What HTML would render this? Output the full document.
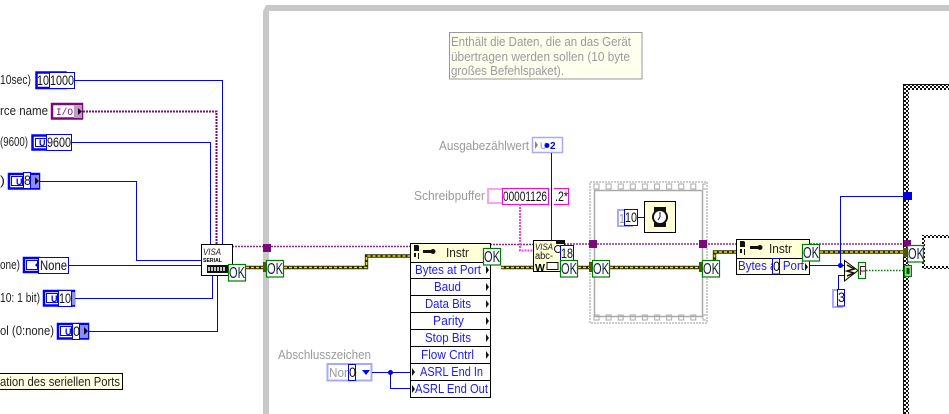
<!DOCTYPE html>
<html><head><meta charset="utf-8"><style>
html,body{margin:0;padding:0;background:#fff;width:949px;height:414px;overflow:hidden}
svg{display:block}
text{font-family:"Liberation Sans",sans-serif;font-size:13px;fill:#222}
.g{fill:#9a9a9a}
.b{fill:#1a1aff}
.ok{font-size:16px;fill:#14233c}
.n{font-size:14px;fill:#111}
.w{fill:none;stroke:#0000ff;stroke-width:1}
.nb{fill:#fff;stroke:#0000ff;stroke-width:1}
.t{fill:#fff;stroke:#0000ff;stroke-width:2.5}
.ti{fill:none;stroke:#0000ff;stroke-width:1}
.okb{fill:#fff;stroke:#007a00;stroke-width:1.2}
.p{fill:none;stroke:#8a2a8a;stroke-width:1.5;stroke-dasharray:2 1}
.py{fill:none;stroke:#2a2a00;stroke-width:3.4}
.py2{fill:none;stroke:#e8e000;stroke-width:1.6;stroke-dasharray:3 2}
.row{fill:#fff;stroke:#000;stroke-width:1}
.tri{fill:#111}
</style></head><body>
<svg width="949" height="414" viewBox="0 0 949 414" xmlns="http://www.w3.org/2000/svg">
<defs>
<pattern id="ch" width="4" height="4" patternUnits="userSpaceOnUse"><rect width="4" height="4" fill="#fff"/><rect width="2" height="2" fill="#111"/><rect x="2" y="2" width="2" height="2" fill="#111"/></pattern>
<pattern id="sp" x="591" y="181" width="12.1" height="142" patternUnits="userSpaceOnUse"><rect x="3" y="3" width="5" height="5" fill="#fff" stroke="#aaa"/><rect x="3" y="134" width="5" height="5" fill="#fff" stroke="#aaa"/></pattern>
</defs>

<!-- main grey frame -->
<path d="M263 414V11l3-6H949V11H269V414Z" fill="#c8c8c8"/>

<!-- checker frame -->
<rect x="903" y="84" width="46" height="6" fill="url(#ch)"/>
<rect x="903" y="84" width="6" height="330" fill="url(#ch)"/>
<path d="M903.5 414V84.5H949" fill="none" stroke="#111"/>
<path d="M949 236.5H923.5V267.5H949" fill="none" stroke="url(#ch)" stroke-width="3"/>

<!-- left wires -->
<path class="w" d="M75 80.5H222.5V244M72 142.5H210.5V244M40 181.5H136.5V260.5H201M68 265.5H201M75 298.5H212.5V275M89 331.5H217.5V275"/>
<path d="M83 111.5H216.5V244" fill="none" stroke="#7a0a7a" stroke-width="2" stroke-dasharray="2 1"/>

<!-- left labels -->
<text x="0" y="84" textLength="31" lengthAdjust="spacingAndGlyphs">10sec)</text>
<text x="0" y="115" textLength="48" lengthAdjust="spacingAndGlyphs">rce name</text>
<text x="0" y="146" textLength="28" lengthAdjust="spacingAndGlyphs">(9600)</text>
<text x="0" y="185" textLength="5" lengthAdjust="spacingAndGlyphs">)</text>
<text x="0" y="269" textLength="20" lengthAdjust="spacingAndGlyphs">one)</text>
<text x="0" y="302" textLength="40" lengthAdjust="spacingAndGlyphs">10: 1 bit)</text>
<text x="0" y="335" textLength="54" lengthAdjust="spacingAndGlyphs">ol (0:none)</text>

<!-- left controls -->
<rect class="t" x="36.5" y="72.5" width="29" height="15.5"/><text class="n" x="37" y="85" textLength="12" lengthAdjust="spacingAndGlyphs">10</text>
<rect class="nb" x="49.5" y="72.5" width="25" height="16"/><text class="n" x="50" y="85" textLength="24" lengthAdjust="spacingAndGlyphs">1000</text>

<rect x="52" y="104" width="30" height="14.5" fill="#fff" stroke="#7a0a7a" stroke-width="2.5"/>
<rect x="74" y="105" width="8" height="13" fill="#c29ac8"/>
<text x="56" y="115" style="font-family:'Liberation Mono',monospace;font-size:10px;fill:#7a0a7a" textLength="17" lengthAdjust="spacingAndGlyphs">I/O</text>
<path class="tri" d="M78 108l4 3.5-4 3.5z"/>

<rect class="t" x="32.5" y="135.5" width="16" height="14"/><rect class="ti" x="35.5" y="138.5" width="11" height="8"/><text x="39" y="146" style="font-size:9px;font-weight:bold;fill:#00f">U</text>
<rect class="nb" x="46.5" y="134.5" width="25" height="16"/><text class="n" x="47" y="147" textLength="24" lengthAdjust="spacingAndGlyphs">9600</text>

<rect class="t" x="9" y="174" width="30" height="14.5"/><rect x="30" y="175" width="9" height="13" fill="#8c8cff"/><rect class="ti" x="11.5" y="176.5" width="11" height="9"/><text x="16" y="185" style="font-size:9px;font-weight:bold;fill:#00f">U</text>
<rect class="nb" x="23.5" y="172.5" width="7" height="16"/><text class="n" x="24" y="185" textLength="7" lengthAdjust="spacingAndGlyphs">8</text>
<path class="tri" d="M35 177l4 4-4 4z"/>

<rect class="t" x="24" y="258" width="15" height="14"/><rect class="ti" x="26.5" y="260.5" width="11" height="9"/><path d="M39 261l-4 4 4 4z" fill="#00f"/>
<rect class="nb" x="38.5" y="257.5" width="30" height="16"/><text class="n" x="40" y="270" textLength="27" lengthAdjust="spacingAndGlyphs">None</text>

<rect class="t" x="44" y="291" width="30" height="14.5"/><rect x="71" y="292" width="4" height="13" fill="#8c8cff"/><rect class="ti" x="46.5" y="293.5" width="11" height="9"/><text x="51" y="302" style="font-size:9px;font-weight:bold;fill:#00f">U</text>
<rect class="nb" x="58.5" y="290.5" width="13" height="16"/><text class="n" x="59" y="303" textLength="12" lengthAdjust="spacingAndGlyphs">10</text>

<rect class="t" x="58" y="324" width="30" height="14.5"/><rect x="80" y="325" width="8" height="13" fill="#8c8cff"/><rect class="ti" x="60.5" y="326.5" width="11" height="9"/><text x="65" y="335" style="font-size:9px;font-weight:bold;fill:#00f">U</text>
<rect class="nb" x="72.5" y="323.5" width="7" height="16"/><text class="n" x="73" y="336" textLength="7" lengthAdjust="spacingAndGlyphs">0</text>
<path class="tri" d="M84 327l4 4-4 4z"/>

<!-- tooltip -->
<rect x="-3" y="373.5" width="125.5" height="16" fill="#ffffe1" stroke="#000"/>
<text x="0" y="386" textLength="120" lengthAdjust="spacingAndGlyphs">ation des seriellen Ports</text>

<!-- main purple + error wires -->
<path class="p" d="M232 246.5H410M490 244.5H533M564 244H903"/>
<path class="py" d="M246 267.5H266M284 267.5H366.5V256H410M501 267.5H533M578 267.5H592M610 267.5H702M720 262H714.5V252H736M820 252H903"/>
<path class="py2" d="M246 267.5H266M284 267.5H366.5V256H410M501 267.5H533M578 267.5H592M610 267.5H702M720 262H714.5V252H736M820 252H903"/>

<!-- VISA serial -->
<rect x="201.5" y="244.5" width="31" height="31" fill="#fff" stroke="#000"/>
<text x="203" y="255" style="font-size:9.5px;font-style:italic;fill:#222" textLength="18" lengthAdjust="spacingAndGlyphs">VISA</text>
<text x="203" y="259" dy="3" style="font-size:5.5px;font-weight:bold;fill:#000" textLength="19" lengthAdjust="spacingAndGlyphs">SERIAL</text>
<rect x="207" y="265" width="21" height="8" fill="#111"/>
<path d="M209 267v4M212 267v4M215 267v4M218 267v4M221 267v4M224 267v4" stroke="#fff" stroke-width="1.5"/>
<rect class="okb" x="228.5" y="264.5" width="17" height="16.5"/><text class="ok" x="229" y="278" textLength="16" lengthAdjust="spacingAndGlyphs">OK</text>

<!-- tunnel in -->
<rect x="263" y="244" width="8" height="8" fill="#7a0a7a"/>
<rect x="263" y="262" width="3" height="10" fill="#55550a"/>
<rect class="okb" x="266.5" y="260.5" width="17" height="16.5"/><text class="ok" x="267" y="274" textLength="16" lengthAdjust="spacingAndGlyphs">OK</text>

<!-- comment -->
<rect x="449.5" y="32.5" width="192.5" height="46.5" fill="#fffff0" stroke="#999"/>
<text class="g" x="451" y="46" textLength="180" lengthAdjust="spacingAndGlyphs">Enthält die Daten, die an das Gerät</text>
<text class="g" x="451" y="61" textLength="179" lengthAdjust="spacingAndGlyphs">übertragen werden sollen (10 byte</text>
<text class="g" x="451" y="75" textLength="113" lengthAdjust="spacingAndGlyphs">großes Befehlspaket).</text>

<!-- property node 1 -->
<rect x="410.5" y="243.5" width="80" height="19" fill="#ffffd8" stroke="#000"/>
<rect class="row" x="410.5" y="262.5" width="80" height="16"/>
<rect class="row" x="410.5" y="278.5" width="80" height="17"/>
<rect class="row" x="410.5" y="295.5" width="80" height="17"/>
<rect class="row" x="410.5" y="312.5" width="80" height="17"/>
<rect class="row" x="410.5" y="329.5" width="80" height="17"/>
<rect class="row" x="410.5" y="346.5" width="80" height="17"/>
<rect class="row" x="410.5" y="363.5" width="80" height="17"/>
<rect class="row" x="410.5" y="380.5" width="80" height="17"/>
<path d="M414 245h4l1 1v5h-5zM414 253h2v4h-2zM418 253h1v6h-1z" fill="#111"/>
<rect x="423" y="250" width="8" height="3" fill="#111"/><circle cx="433" cy="251.5" r="2.5" fill="#111"/>
<text x="446" y="257" textLength="23" lengthAdjust="spacingAndGlyphs">Instr</text>
<text class="b" x="415" y="274" textLength="66" lengthAdjust="spacingAndGlyphs">Bytes at Port</text>
<text class="b" x="434" y="291" textLength="27" lengthAdjust="spacingAndGlyphs">Baud</text>
<text class="b" x="425" y="308" textLength="46" lengthAdjust="spacingAndGlyphs">Data Bits</text>
<text class="b" x="433" y="325" textLength="31" lengthAdjust="spacingAndGlyphs">Parity</text>
<text class="b" x="425" y="342" textLength="46" lengthAdjust="spacingAndGlyphs">Stop Bits</text>
<text class="b" x="421" y="359" textLength="53" lengthAdjust="spacingAndGlyphs">Flow Cntrl</text>
<text class="b" x="420" y="376" textLength="63" lengthAdjust="spacingAndGlyphs">ASRL End In</text>
<text class="b" x="415" y="393" textLength="73" lengthAdjust="spacingAndGlyphs">ASRL End Out</text>
<path class="tri" d="M486 266l3 4-3 4zM486 283l3 4-3 4zM486 300l3 4-3 4zM486 317l3 4-3 4zM486 334l3 4-3 4zM486 351l3 4-3 4zM412 368l3 4-3 4zM412 385l3 4-3 4z"/>
<rect class="okb" x="483.5" y="248.5" width="17" height="16.5"/><text class="ok" x="484" y="262" textLength="16" lengthAdjust="spacingAndGlyphs">OK</text>

<!-- Abschlusszeichen -->
<text class="g" x="278" y="359" textLength="93" lengthAdjust="spacingAndGlyphs">Abschlusszeichen</text>
<rect x="327.5" y="364" width="44" height="16.5" fill="#fff" stroke="#a8a8ff" stroke-width="2"/>
<text class="g" x="329" y="377" textLength="28" lengthAdjust="spacingAndGlyphs">None</text>
<rect class="nb" x="348.5" y="364.5" width="7" height="16"/><text class="n" x="349" y="377" textLength="7" lengthAdjust="spacingAndGlyphs">0</text>
<path d="M362 370h8l-4 5z" fill="#00f"/>
<path class="w" d="M372 372.5H410M390.5 372.5V388.5H410"/>
<circle cx="390.5" cy="372.5" r="2.5" fill="#00f"/>

<!-- Ausgabe + Schreibpuffer -->
<text class="g" x="439" y="150" textLength="90" lengthAdjust="spacingAndGlyphs">Ausgabezählwert</text>
<rect x="532.5" y="137.5" width="30" height="15" fill="#fff" stroke="#a8a8ff" stroke-width="1.5"/>
<path d="M535 141l3 4-3 4z" fill="#888"/><text x="540" y="149" style="font-size:9px;font-weight:bold;fill:#a8a8ff">U</text>
<circle cx="547" cy="145.5" r="2.5" fill="#00f"/><text x="550" y="149" style="font-size:10px;font-weight:bold;fill:#00f">2</text>
<path class="w" d="M551.5 153V240"/>
<text class="g" x="414" y="200" textLength="71" lengthAdjust="spacingAndGlyphs">Schreibpuffer</text>
<rect x="488" y="189" width="17" height="14" fill="#fff" stroke="#ffa0f0" stroke-width="2"/>
<rect x="502.5" y="188.5" width="46" height="16" fill="#fff" stroke="#ff00e0"/>
<text class="n" x="503" y="201" textLength="44" lengthAdjust="spacingAndGlyphs">00001126</text>
<path d="M554 188.5H568.5V204.5H554" fill="#fff" stroke="#ff00e0"/>
<text class="n" x="555" y="201" textLength="13" lengthAdjust="spacingAndGlyphs">.2*</text>
<path d="M520 204V250.5H533" fill="none" stroke="#ff40e8" stroke-width="2" stroke-dasharray="2 1"/>

<!-- VISA write -->
<rect x="533.5" y="240.5" width="31" height="31" fill="#ffffd8" stroke="#000"/>
<text x="535" y="250" style="font-size:9.5px;font-style:italic;fill:#222" textLength="18" lengthAdjust="spacingAndGlyphs">VISA</text>
<text x="535" y="259" style="font-size:10px;fill:#111" textLength="18" lengthAdjust="spacingAndGlyphs">abc-</text>
<text x="535" y="271" style="font-size:10px;font-weight:bold;fill:#000" textLength="10" lengthAdjust="spacingAndGlyphs">W</text>
<rect x="547" y="262.5" width="11" height="7" fill="#fff" stroke="#111"/>
<circle cx="558" cy="249" r="3.5" fill="#fff" stroke="#111"/>
<rect x="556" y="240" width="8" height="4" fill="#111"/>
<rect class="nb" x="560.5" y="245.5" width="13" height="16"/><text class="n" x="561" y="258" textLength="12" lengthAdjust="spacingAndGlyphs">18</text>
<rect class="okb" x="560.5" y="260.5" width="17" height="16.5"/><text class="ok" x="561" y="274" textLength="16" lengthAdjust="spacingAndGlyphs">OK</text>

<!-- Flat sequence -->
<rect x="590" y="182" width="117" height="141" fill="none" stroke="#bbb" stroke-dasharray="2 1" stroke-width="1.5"/>
<rect x="591" y="181" width="115" height="142" fill="url(#sp)"/>
<rect x="594.5" y="190.5" width="108" height="126" fill="none" stroke="#aaa" stroke-width="1.5"/>
<rect x="618" y="210" width="14" height="16" fill="#fff" stroke="#a8a8ff" stroke-width="2"/>
<text class="g" x="619" y="223" textLength="6" lengthAdjust="spacingAndGlyphs">1</text>
<rect class="nb" x="624.5" y="209.5" width="13" height="16"/><text class="n" x="625" y="222" textLength="12" lengthAdjust="spacingAndGlyphs">10</text>
<path class="w" d="M637 217.5H644"/>
<rect x="644.5" y="201.5" width="31" height="31" fill="#ffffd8" stroke="#000"/>
<rect x="654" y="207" width="12" height="20" fill="#111"/>
<circle cx="660" cy="217" r="8" fill="#111"/><circle cx="660" cy="217" r="6" fill="#fff"/>
<path d="M660 212v5l-2 3" fill="none" stroke="#111"/>
<rect x="589" y="240" width="8" height="8" fill="#7a0a7a"/>
<rect x="699" y="240" width="8" height="8" fill="#7a0a7a"/>
<rect x="589" y="262" width="3" height="10" fill="#55550a"/>
<rect x="699" y="262" width="3" height="10" fill="#55550a"/>
<rect class="okb" x="592.5" y="260.5" width="17" height="16.5"/><text class="ok" x="593" y="274" textLength="16" lengthAdjust="spacingAndGlyphs">OK</text>
<rect class="okb" x="702.5" y="260.5" width="17" height="16.5"/><text class="ok" x="703" y="274" textLength="16" lengthAdjust="spacingAndGlyphs">OK</text>

<!-- property node 2 -->
<rect x="736.5" y="239.5" width="73" height="19" fill="#ffffd8" stroke="#000"/>
<rect x="736.5" y="258.5" width="73" height="16" fill="#ffffe8" stroke="#000"/>
<path d="M740 241h4l1 1v5h-5zM740 249h2v4h-2zM744 249h1v6h-1z" fill="#111"/>
<rect x="750" y="246" width="8" height="3" fill="#111"/><circle cx="760" cy="247.5" r="2.5" fill="#111"/>
<text x="769" y="253" textLength="23" lengthAdjust="spacingAndGlyphs">Instr</text>
<text class="b" x="738" y="270" textLength="66" lengthAdjust="spacingAndGlyphs">Bytes at Port</text>
<path class="tri" d="M805 263l3 4-3 4z"/>
<rect class="nb" x="772.5" y="258.5" width="7" height="15.5"/><text class="n" x="773" y="271" textLength="7" lengthAdjust="spacingAndGlyphs">0</text>
<rect class="okb" x="802.5" y="244.5" width="17" height="16.5"/><text class="ok" x="803" y="258" textLength="16" lengthAdjust="spacingAndGlyphs">OK</text>

<!-- compare / right -->
<path class="w" d="M810 265.5H844M840.5 265.5V196.5H904M846 275.5H838.5V289"/>
<circle cx="840.5" cy="265.5" r="2.5" fill="#00f"/>
<rect x="904" y="192" width="8" height="8" fill="#0000e0"/>
<path d="M844.5 260.5L858 270.5 844.5 281Z" fill="#ffffd8" stroke="#000"/>
<path d="M847 265l7 4-7 2 7 2-7 3" fill="none" stroke="#111" stroke-width="1.5"/>
<rect class="okb" x="858.5" y="262.5" width="7" height="16"/><text x="859" y="275" style="font-size:13px;fill:#5a1030" textLength="7" lengthAdjust="spacingAndGlyphs">F</text>
<rect x="833" y="290" width="9" height="17" fill="#fff" stroke="#a8a8ff" stroke-width="2"/>
<rect class="nb" x="837.5" y="289.5" width="7" height="16.5"/><text class="n" x="838" y="302" textLength="7" lengthAdjust="spacingAndGlyphs">3</text>
<path d="M866 270.5H904" fill="none" stroke="#007a00" stroke-width="1.5" stroke-dasharray="1.5 1.5"/>
<rect x="904.5" y="265.5" width="7" height="11" fill="#90d890" stroke="#007a00"/>
<rect x="906.5" y="268" width="3" height="6" fill="#005000"/>
<rect x="904" y="240" width="7" height="7" fill="#7a0a7a"/>
<rect x="903" y="248" width="4" height="9" fill="#55550a"/>
<rect class="okb" x="907.5" y="245.5" width="16" height="16.5" fill-opacity=".85"/><text class="ok" x="908" y="259" textLength="16" lengthAdjust="spacingAndGlyphs">OK</text>
</svg>
</body></html>
